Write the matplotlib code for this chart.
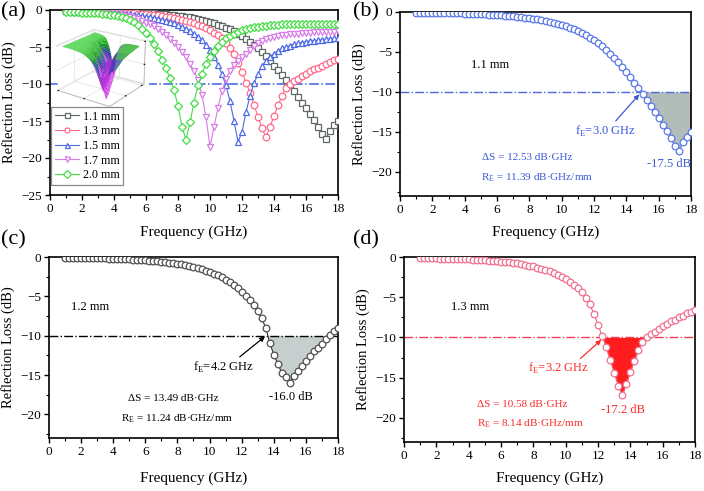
import numpy as np
import matplotlib
matplotlib.use("Agg")
import matplotlib.pyplot as plt
from matplotlib.ticker import MultipleLocator
from matplotlib.colors import LinearSegmentedColormap
from mpl_toolkits.mplot3d import Axes3D  # noqa

plt.rcParams['font.family'] = ['Liberation Serif', 'DejaVu Serif']
plt.rcParams['mathtext.fontset'] = 'custom'
plt.rcParams['mathtext.rm'] = 'Liberation Serif'

# ---------------- data ----------------
freq = np.arange(1.0, 18.001, 0.25)

rl_11 = [-0.10, -0.10, -0.11, -0.11, -0.12, -0.12, -0.13, -0.14, -0.15, -0.16, -0.17, -0.18,
         -0.20, -0.21, -0.23, -0.25, -0.27, -0.29, -0.32, -0.35, -0.38, -0.41, -0.45, -0.49,
         -0.54, -0.59, -0.64, -0.70, -0.77, -0.84, -0.92, -1.01, -1.11, -1.22, -1.34, -1.47,
         -1.62, -1.78, -1.96, -2.16, -2.38, -2.62, -2.89, -3.19, -3.52, -3.88, -4.28, -4.72,
         -5.20, -5.72, -6.28, -6.88, -7.50, -8.15, -8.82, -9.50, -10.2, -10.95, -11.7, -12.5,
         -13.3, -14.1, -14.9, -15.8, -16.8, -17.4, -16.3, -15.6, -15.0]

rl_12 = [-0.10, -0.10, -0.11, -0.12, -0.12, -0.13, -0.14, -0.15, -0.16, -0.17, -0.18, -0.20,
         -0.21, -0.23, -0.25, -0.27, -0.29, -0.32, -0.35, -0.38, -0.41, -0.45, -0.49, -0.54,
         -0.59, -0.65, -0.71, -0.78, -0.86, -0.95, -1.05, -1.16, -1.28, -1.42, -1.57, -1.73,
         -1.91, -2.11, -2.34, -2.60, -2.89, -3.21, -3.57, -3.97, -4.42, -4.93, -5.50, -6.15,
         -6.90, -7.80, -9.00, -10.9, -12.4, -13.6, -14.7, -15.3, -16.0, -15.1, -14.5, -13.8,
         -13.2, -12.6, -12.0, -11.5, -11.0, -10.4, -9.9, -9.4, -9.0]

rl_13 = [-0.15, -0.15, -0.16, -0.17, -0.18, -0.19, -0.20, -0.21, -0.23, -0.24, -0.26, -0.28,
         -0.30, -0.32, -0.35, -0.38, -0.41, -0.44, -0.48, -0.52, -0.56, -0.61, -0.67, -0.73,
         -0.80, -0.88, -0.97, -1.07, -1.18, -1.31, -1.45, -1.61, -1.79, -1.99, -2.22, -2.47,
         -2.75, -3.07, -3.43, -3.84, -4.40, -5.10, -5.90, -7.10, -8.40, -9.80, -11.2, -12.8,
         -14.4, -16.0, -17.2, -15.8, -14.3, -12.9, -11.6, -10.6, -10.0, -9.6, -9.3, -8.9,
         -8.6, -8.3, -8.0, -7.8, -7.5, -7.3, -7.0, -6.8, -6.6]

rl_15 = [-0.20, -0.20, -0.21, -0.22, -0.23, -0.24, -0.26, -0.28, -0.30, -0.32, -0.35, -0.38,
         -0.41, -0.45, -0.49, -0.54, -0.59, -0.65, -0.72, -0.80, -0.88, -0.97, -1.07, -1.18,
         -1.31, -1.45, -1.61, -1.80, -2.01, -2.25, -2.52, -2.85, -3.20, -3.60, -4.10, -4.70,
         -5.40, -6.30, -7.40, -8.70, -10.2, -12.3, -15.0, -17.8, -16.5, -13.8, -11.6, -9.9,
         -8.6, -7.6, -6.9, -6.3, -5.9, -5.5, -5.2, -5.0, -4.8, -4.65, -4.5, -4.4,
         -4.3, -4.2, -4.15, -4.1, -4.0, -3.95, -3.9, -3.85, -3.8]

rl_17 = [-0.25, -0.26, -0.27, -0.28, -0.30, -0.32, -0.34, -0.36, -0.39, -0.42, -0.46, -0.50,
         -0.55, -0.61, -0.68, -0.76, -0.90, -1.05, -1.20, -1.45, -1.75, -1.95, -2.20, -2.55,
         -3.00, -3.40, -3.90, -4.40, -5.00, -5.65, -6.40, -7.30, -8.30, -9.40, -11.5, -14.5,
         -18.5, -15.8, -13.2, -10.9, -9.3, -8.2, -7.4, -6.9, -6.4, -5.9, -5.4, -4.9,
         -4.5, -4.2, -3.95, -3.75, -3.6, -3.5, -3.4, -3.35, -3.3, -3.25, -3.2, -3.15,
         -3.1, -3.07, -3.04, -3.01, -2.98, -2.95, -2.93, -2.91, -2.9]

rl_20 = [-0.30, -0.31, -0.32, -0.33, -0.35, -0.37, -0.40, -0.43, -0.47, -0.52, -0.58, -0.65,
         -0.73, -0.83, -0.95, -1.10, -1.30, -1.60, -2.00, -2.50, -3.10, -3.80, -4.60, -5.60,
         -6.70, -7.90, -9.20, -10.8, -13.0, -15.8, -17.5, -15.2, -12.5, -10.2, -8.6, -7.3,
         -6.3, -5.5, -4.8, -4.3, -3.85, -3.5, -3.2, -2.95, -2.75, -2.6, -2.45, -2.35,
         -2.25, -2.18, -2.12, -2.06, -2.02, -1.98, -1.95, -1.93, -1.91, -1.9, -1.89, -1.88,
         -1.87, -1.87, -1.86, -1.86, -1.86, -1.86, -1.86, -1.86, -1.86]

legend_labels = ['1.1 mm', '1.3 mm', '1.5 mm', '1.7 mm', '2.0 mm']
thickness = [1.1, 1.3, 1.5, 1.7, 2.0]
series_a = [rl_11, rl_13, rl_15, rl_17, rl_20]

# ---------------- styles ----------------
colors_a = ['#606868', '#ff6a8a', '#4d6ae8', '#d77ce8', '#44dd44']
markers_a = ['s', 'o', '^', 'v', 'D']
msizes_a = [4.4, 4.8, 4.8, 4.8, 4.0]

W, H = 704.0, 491.0
fig = plt.figure(figsize=(7.04, 4.91), dpi=100)

def px_axes(l, t, r, b, **kw):
    return fig.add_axes([l / W, 1 - b / H, (r - l) / W, (b - t) / H], **kw)

def style_axes(ax, ylo, lp):
    ax.set_xlim(0, 18)
    ax.set_ylim(ylo, 0)
    ax.xaxis.set_major_locator(MultipleLocator(2))
    ax.xaxis.set_minor_locator(MultipleLocator(1))
    ax.yaxis.set_major_locator(MultipleLocator(5))
    ax.yaxis.set_minor_locator(MultipleLocator(2.5))
    ax.tick_params(which='major', direction='out', length=3.5, width=1.0,
                   labelsize=9.5, pad=2, top=False, right=False)
    ax.tick_params(which='minor', direction='out', length=2, width=0.8,
                   top=False, right=False)
    for s in ax.spines.values():
        s.set_linewidth(1.2)
    ax.set_xlabel('Frequency (GHz)', fontsize=11, labelpad=lp)
    ax.set_ylabel('Reflection Loss (dB)', fontsize=10.5, labelpad=4)

# ---------- (a) ----------
axa = px_axes(50, 10, 338, 195)
style_axes(axa, -25, 8)
axa.axhline(-10, ls='-.', color='#3a62e0', lw=1.1, zorder=1)
handles = []
for y, c, m, ms, lab in zip(series_a, colors_a, markers_a, msizes_a, legend_labels):
    h, = axa.plot(freq, y, color=c, lw=0.8, marker=m, ms=ms, mfc='white',
                  mec=c, mew=0.9, label=lab, zorder=3)
    handles.append(h)
leg = axa.legend(handles=handles, loc='lower left', bbox_to_anchor=(0.004, 0.055),
                 fontsize=8.7, frameon=True, fancybox=False, edgecolor='#888888',
                 handlelength=2.0, handletextpad=0.3, borderpad=0.3,
                 labelspacing=0.22, borderaxespad=0.0, framealpha=1)
leg.get_frame().set_linewidth(0.9)
for lh in leg.legend_handles:
    lh.set_markersize(3.6)
fig.text(1 / W, 1 - 12 / H, '(a)', fontsize=16, va='center', ha='left')

# white backdrop of the inset picture
bg = px_axes(58, 38, 149, 103)
bg.set_facecolor('white')
bg.set_xticks([]); bg.set_yticks([])
for s in bg.spines.values():
    s.set_visible(False)
bg.set_zorder(5)

# inset 3D surface from the same curves
ax3 = px_axes(40, 18, 160, 116, projection='3d')
ax3.set_facecolor('none')
ax3.set_zorder(6)
X, Y = np.meshgrid(freq, thickness)
Z = np.array(series_a)
cmap = LinearSegmentedColormap.from_list('rl', ['#e040f0', '#9030c8', '#2838a8', '#10a010', '#30d030'])
ax3.plot_surface(X, Y, Z, cmap=cmap, linewidth=0, antialiased=True, rstride=1, cstride=1)
ax3.view_init(elev=22, azim=-55)
ax3.set_xticklabels([]); ax3.set_yticklabels([]); ax3.set_zticklabels([])
for axis in (ax3.xaxis, ax3.yaxis, ax3.zaxis):
    axis.pane.set_facecolor('white')
    axis.pane.set_edgecolor('#cccccc')
    axis._axinfo['grid']['color'] = '#dddddd'
    axis._axinfo['grid']['linewidth'] = 0.4
    axis._axinfo['tick']['inward_factor'] = 0
    axis._axinfo['tick']['outward_factor'] = 0.1
    axis.line.set_linewidth(0.4)
    axis.line.set_color('#aaaaaa')

# ---------- (b) ----------
axb = px_axes(400, 12, 691, 196)
style_axes(axb, -23, 7.4)
rl11 = np.array(rl_11)
axb.fill_between(freq, rl11, -10, where=rl11 <= -10, interpolate=True,
                 color='#b2bcb8', lw=0, zorder=1)
axb.axhline(-10, ls='-.', color='#4a6ae0', lw=1.0, zorder=2)
axb.plot(freq, rl_11, color='#5a78e8', lw=0.8, marker='o', ms=4.8, mfc='white',
         mec='#5a78e8', mew=0.9, zorder=3)
bc = '#3a5ad8'
axb.text(4.4, -6.6, '1.1 mm', fontsize=9, color='black', va='center')
axb.annotate('f$_\\mathrm{E}$=3.0 GHz', xy=(14.8, -10.3), xytext=(10.85, -14.9),
             fontsize=9, color=bc, va='center',
             arrowprops=dict(arrowstyle='-|>', color=bc, lw=0.9, shrinkA=0, shrinkB=0,
                             mutation_scale=7, relpos=(0.62, 1.0)))
axb.text(15.3, -19.0, '-17.5 dB', fontsize=9, color=bc, va='center')
axb.text(5.1, -18.2, '\u0394S = 12.53 dB\u00b7GHz', fontsize=8, color=bc, va='center')
axb.text(5.0, -20.7, 'R$_\\mathrm{E}$ = 11.39 dB\u00b7GHz/mm', fontsize=8, color=bc, va='center')
fig.text(353 / W, 1 - 12 / H, '(b)', fontsize=16, va='center', ha='left')

# ---------- (c) ----------
axc = px_axes(49, 257, 338, 438)
style_axes(axc, -23, 10)
rl12 = np.array(rl_12)
axc.fill_between(freq, rl12, -10, where=rl12 <= -10, interpolate=True,
                 color='#c6cece', lw=0, zorder=1)
axc.axhline(-10, ls='-.', color='black', lw=1.0, zorder=2)
axc.plot(freq, rl_12, color='#303030', lw=0.8, marker='o', ms=4.8, mfc='white',
         mec='#505050', mew=0.9, zorder=3)
axc.text(1.4, -6.3, '1.2 mm', fontsize=9, color='black', va='center')
axc.annotate('f$_\\mathrm{E}$=4.2 GHz', xy=(13.45, -10.1), xytext=(9.0, -14.0),
             fontsize=9, color='black', va='center',
             arrowprops=dict(arrowstyle='-|>', color='black', lw=0.9, shrinkA=0, shrinkB=0,
                             mutation_scale=7, relpos=(0.7, 1.0)))
axc.text(13.7, -17.8, '-16.0 dB', fontsize=9, color='black', va='center')
axc.text(4.9, -18.0, '\u0394S = 13.49 dB\u00b7GHz', fontsize=8, color='black', va='center')
axc.text(4.5, -20.5, 'R$_\\mathrm{E}$ = 11.24 dB\u00b7GHz/mm', fontsize=8, color='black', va='center')
fig.text(1 / W, 1 - 240 / H, '(c)', fontsize=16, va='center', ha='left')

# ---------- (d) ----------
axd = px_axes(404, 257, 695, 442)
style_axes(axd, -23, 7.4)
rl13 = np.array(rl_13)
axd.fill_between(freq, rl13, -10, where=rl13 <= -10, interpolate=True,
                 color='#ff1c1c', lw=0, zorder=1)
axd.axhline(-10, ls='-.', color='#f04050', lw=1.0, zorder=2)
axd.plot(freq, rl_13, color='#f06080', lw=0.8, marker='o', ms=4.8, mfc='white',
         mec='#f07090', mew=0.9, zorder=3)
rc = '#ff2a2a'
axd.text(2.9, -6.2, '1.3 mm', fontsize=9, color='black', va='center')
axd.annotate('f$_\\mathrm{E}$=3.2 GHz', xy=(12.2, -10.3), xytext=(7.7, -13.9),
             fontsize=9, color=rc, va='center',
             arrowprops=dict(arrowstyle='-|>', color=rc, lw=0.9, shrinkA=0, shrinkB=0,
                             mutation_scale=7, relpos=(0.8, 1.0)))
axd.text(12.2, -19.0, '-17.2 dB', fontsize=9, color=rc, va='center')
axd.text(4.5, -18.3, '\u0394S = 10.58 dB\u00b7GHz', fontsize=8, color=rc, va='center')
axd.text(4.5, -20.7, 'R$_\\mathrm{E}$ = 8.14 dB\u00b7GHz/mm', fontsize=8, color=rc, va='center')
fig.text(353 / W, 1 - 240 / H, '(d)', fontsize=16, va='center', ha='left')

fig.savefig('out.png', dpi=100)
